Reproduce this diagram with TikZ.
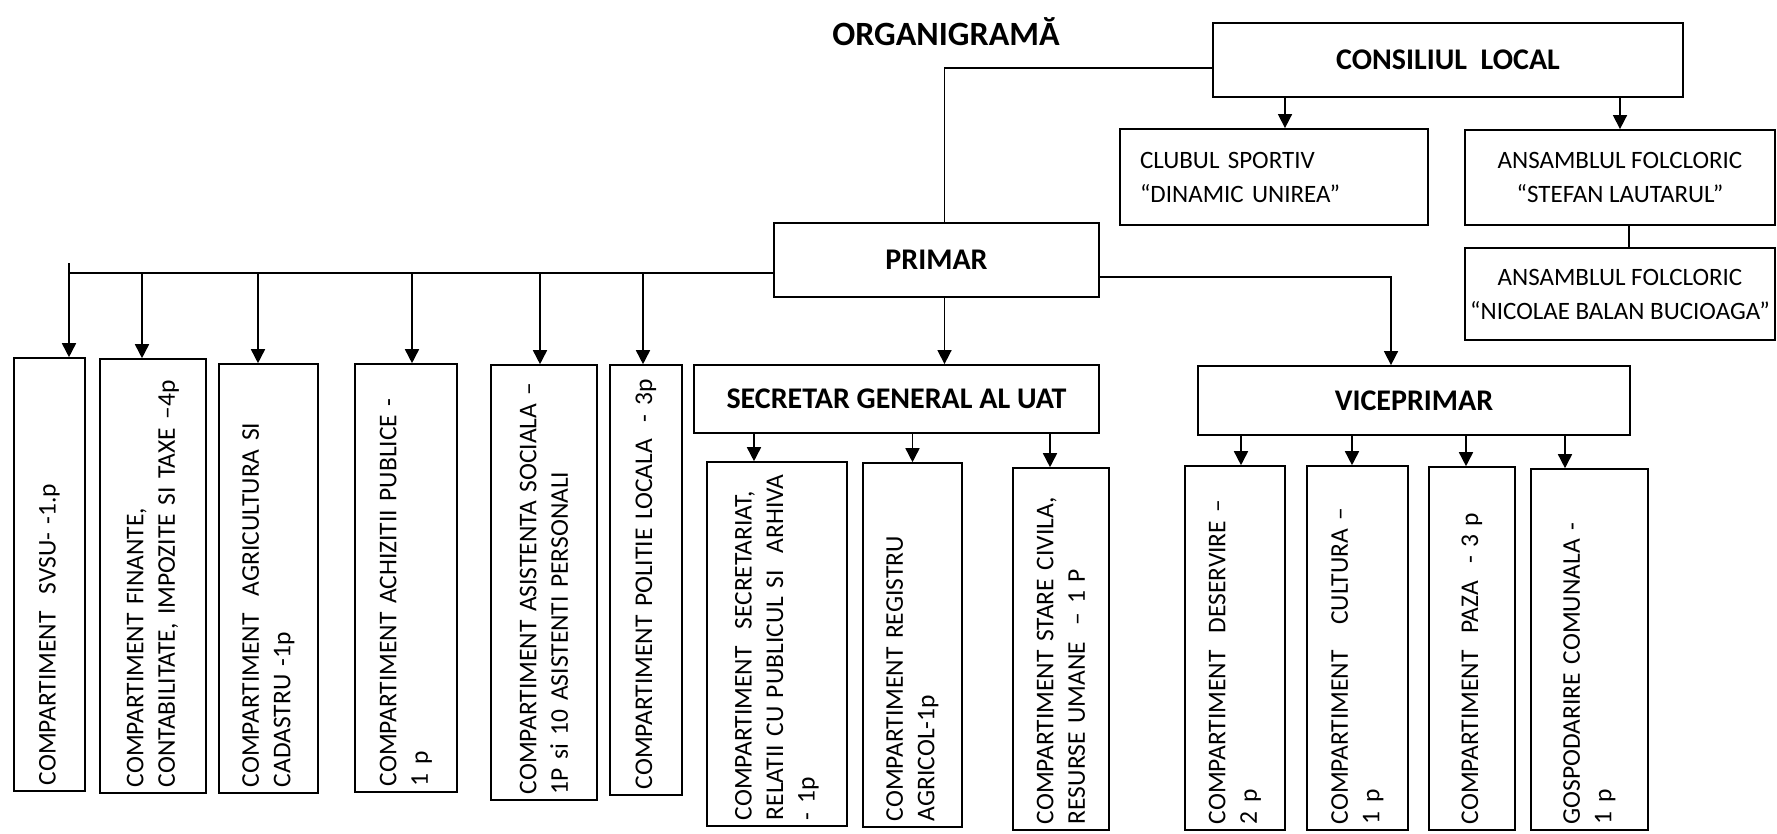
\documentclass[tikz,border=0pt]{standalone}
\usepackage{fontspec}
\setmainfont{Carlito}
\usetikzlibrary{arrows.meta,positioning}

\newcommand{\orgtitle}{\fontsize{34}{40}\selectfont\bfseries}
\newcommand{\orghead}{\fontsize{30}{36}\selectfont\bfseries}
\newcommand{\orgsmall}{\fontsize{25}{34}\selectfont}
\newcommand{\orgvert}{\fontsize{25.5}{31.5}\selectfont}

\begin{document}
\begin{tikzpicture}[x=1pt, y=-1pt,
    conn/.style={line width=1.6pt},
    arr/.style={line width=1.6pt, -{Triangle[length=14pt,width=14pt]}},
    head/.style={draw, line width=1.8pt, font=\orghead, inner sep=0pt},
    ubox/.style={draw, line width=1.8pt, font=\orgsmall, align=center, inner sep=0pt},
    vertbox/.style={draw, line width=1.8pt, font=\orgvert, rotate=90, anchor=west,
                    align=left, inner xsep=6pt, inner ysep=0pt}]
    \useasboundingbox (0,0) rectangle (1777,833);

    % Title
    \node[font=\orgtitle] (title) at (946,32) {ORGANIGRAMĂ};

    % Council and subordinated units
    \node[head, minimum width=470pt, minimum height=74pt] (cl) at (1448,60) {CONSILIUL\ \ LOCAL};
    \node[ubox, align=left, text width=268pt, minimum width=308pt, minimum height=96pt] (club) at (1274,177)
        {CLUBUL SPORTIV\\ “DINAMIC UNIREA”};
    \node[ubox, minimum width=310pt, minimum height=95pt] (ans1) at (1620,177.5)
        {ANSAMBLUL FOLCLORIC\\ “STEFAN LAUTARUL”};
    \node[ubox, minimum width=310pt, minimum height=92pt] (ans2) at (1620,294)
        {ANSAMBLUL FOLCLORIC\\ “NICOLAE BALAN BUCIOAGA”};

    % Mayor, secretary, deputy mayor
    \node[head, minimum width=325pt, minimum height=74pt] (primar) at (936.5,260) {PRIMAR};
    \node[head, minimum width=405pt, minimum height=68pt] (secretar) at (896.5,399) {SECRETAR GENERAL AL UAT};
    \node[head, minimum width=432pt, minimum height=69pt] (vice) at (1414,400.5) {VICEPRIMAR};

    % Departments under the mayor
    \node[vertbox, minimum width=433pt, minimum height=71pt, text width=421pt] (svsu) at (49.5,792)
        {COMPARTIMENT\ \ SVSU- -1.p};
    \node[vertbox, minimum width=434pt, minimum height=106pt, text width=422pt] (finante) at (153,794)
        {COMPARTIMENT FINANTE,\\ CONTABILITATE, IMPOZITE SI TAXE –4p};
    \node[vertbox, minimum width=429pt, minimum height=99pt, text width=417pt] (agri) at (268.5,794)
        {COMPARTIMENT\ \ AGRICULTURA SI\\ CADASTRU -1p};
    \node[vertbox, minimum width=428pt, minimum height=102pt, text width=416pt] (achiz) at (406,793)
        {COMPARTIMENT ACHIZITII PUBLICE -\\ 1 p};
    \node[vertbox, minimum width=435pt, minimum height=106pt, text width=423pt] (asist) at (544,801)
        {COMPARTIMENT ASISTENTA SOCIALA –\\ 1P si 10 ASISTENTI PERSONALI};
    \node[vertbox, minimum width=430pt, minimum height=72pt, text width=418pt] (politie) at (646,796)
        {COMPARTIMENT POLITIE LOCALA\ \ - 3p};

    % Departments under the secretary
    \node[vertbox, minimum width=364pt, minimum height=140pt, text width=352pt] (secretariat) at (777,827)
        {COMPARTIMENT\ \ SECRETARIAT,\\ RELATII CU PUBLICUL SI\ \ ARHIVA\\ - 1p};
    \node[vertbox, minimum width=364pt, minimum height=99pt, text width=352pt] (registru) at (912.5,828)
        {COMPARTIMENT REGISTRU\\ AGRICOL-1p};
    \node[vertbox, minimum width=362pt, minimum height=96pt, text width=350pt] (stare) at (1061,831)
        {COMPARTIMENT STARE CIVILA,\\ RESURSE UMANE\ \ – 1 P};

    % Departments under the deputy mayor
    \node[vertbox, minimum width=364pt, minimum height=100pt, text width=352pt] (deservire) at (1235,831)
        {COMPARTIMENT\ \ DESERVIRE –\\ 2 p};
    \node[vertbox, minimum width=364pt, minimum height=101pt, text width=352pt] (cultura) at (1357.5,831)
        {COMPARTIMENT\ \ \ CULTURA –\\ 1 p};
    \node[vertbox, minimum width=363pt, minimum height=86pt, text width=351pt] (paza) at (1472,831)
        {COMPARTIMENT\ \ PAZA\ \ - 3 p};
    \node[vertbox, minimum width=361pt, minimum height=117pt, text width=349pt] (gosp) at (1589.5,831)
        {GOSPODARIRE COMUNALA -\\ 1 p};

    % Connectors from the council
    \draw[conn] ([yshift=-8pt]cl.west) -| ([xshift=8pt]primar.north);
    \draw[arr] ([xshift=11pt]club.north |- cl.south) -- ([xshift=11pt]club.north);
    \draw[arr] (ans1.north |- cl.south) -- (ans1.north);
    \draw[conn] ([xshift=9pt]ans1.south) -- ([xshift=9pt]ans2.north);

    % Connectors from the mayor
    \draw[arr] ([xshift=8pt]primar.south) -- ([xshift=8pt]primar.south |- secretar.north);
    \draw[arr] ([yshift=-17pt]primar.east) -| ([xshift=-23pt]vice.north);
    \coordinate (bus) at (69,273);
    \draw[conn] ([yshift=-13pt]primar.west) -- (bus) -- ++(0,-10);
    \foreach \n/\d in {svsu/19.5, finante/-11, agri/-10.5, achiz/6, asist/-4, politie/-3}
        \draw[arr] ([xshift=\d pt]\n.east |- bus) -- ([xshift=\d pt]\n.east);

    % Connectors from the secretary and deputy mayor
    \foreach \n/\d in {secretariat/-23, registru/0, stare/-11}
        \draw[arr] ([xshift=\d pt]\n.east |- secretar.south) -- ([xshift=\d pt]\n.east);
    \foreach \n/\d in {deservire/6, cultura/-5.5, paza/-6, gosp/-24.5}
        \draw[arr] ([xshift=\d pt]\n.east |- vice.south) -- ([xshift=\d pt]\n.east);
\end{tikzpicture}
\end{document}
